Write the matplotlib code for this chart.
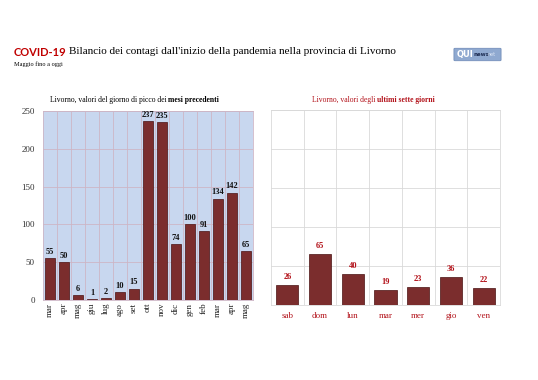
import matplotlib.pyplot as plt
import matplotlib.patches as mpatches
import numpy as np

mesi = ["mar", "apr", "mag", "giu", "lug", "ago", "set", "ott", "nov",
        "dic", "gen", "feb", "mar", "apr", "mag"]
picchi = [55, 50, 6, 1, 2, 10, 15, 237, 235, 74, 100, 91, 134, 142, 65]

giorni = ["sab", "dom", "lun", "mar", "mer", "gio", "ven"]
ultimi = [26, 65, 40, 19, 23, 36, 22]

plt.rcParams['font.family'] = ['Liberation Serif', 'DejaVu Serif']

BAR = '#7b2d2d'
EDGE = '#4a1212'
RED = '#b3121a'

fig = plt.figure(figsize=(5.38, 3.80), dpi=100)
fig.patch.set_facecolor('white')

# titolo
t1 = fig.text(14/538, 1 - 52/380, "COVID-19", fontsize=8, weight='bold',
              color='#c00000', family=['Lato', 'DejaVu Sans'], va='center')
fig.canvas.draw()
bb = t1.get_window_extent()
fig.text(bb.x1/538 + 0.005, 1 - 52/380, "Bilancio dei contagi dall'inizio della pandemia nella provincia di Livorno",
         fontsize=8, color='black', va='center')
fig.text(14/538, 1 - 64/380, "Maggio fino a oggi", fontsize=4.5, va='center')

# logo
logo = mpatches.FancyBboxPatch((455/538, 1 - 60/380), 45/538, 11/380,
                               boxstyle="round,pad=0.002", transform=fig.transFigure,
                               facecolor='#8fa9d0', edgecolor='#6a86b4', lw=0.5)
fig.patches.append(logo)
fig.text(457/538, 1 - 54.5/380, "QUI", fontsize=6, weight='bold', color='white',
         family=['DejaVu Sans'], va='center')
fig.text(473/538, 1 - 55/380, "news", fontsize=4, weight='bold', color='#1f2f55',
         family=['DejaVu Sans'], va='center')
fig.text(488/538, 1 - 55/380, "net", fontsize=3.5, color='#dde6f5',
         family=['DejaVu Sans'], va='center')

# grafico mesi
ax1 = fig.add_axes([43/538, 80/380, 210/538, 189/380])
x1 = np.arange(len(mesi))
ax1.set_facecolor('#c8d7ef')
ax1.bar(x1, picchi, width=0.78, color=BAR, edgecolor=EDGE, linewidth=0.5, zorder=3)
for xi, v in zip(x1, picchi):
    ax1.text(xi, v + 3, str(v), ha='center', va='bottom', fontsize=6,
             weight='bold', color='#111111', zorder=4)
ax1.set_xlim(-0.5, len(mesi) - 0.5)
ax1.set_ylim(0, 250)
ax1.set_yticks(range(0, 251, 50))
ax1.set_xticks(x1)
ax1.set_xticklabels(mesi, rotation=90, fontsize=6.5, color='#222222')
ax1.set_xticks(x1[:-1] + 0.5, minor=True)
ax1.tick_params(axis='both', which='both', length=0, pad=2)
ax1.tick_params(axis='y', labelsize=6.5, labelcolor='#333333', pad=6)
ax1.grid(True, axis='y', which='major', color='#cdb6c6', lw=0.6, zorder=0)
ax1.grid(True, axis='x', which='minor', color='#cdb6c6', lw=0.6, zorder=0)
for s in ax1.spines.values():
    s.set_color('#cdb6c6')
    s.set_linewidth(0.6)

t = fig.text(50/538, 1 - 100/380, "Livorno, valori del giorno di picco dei ",
             fontsize=5.5, va='center')
fig.canvas.draw()
bb = t.get_window_extent()
fig.text(bb.x1/538, 1 - 100/380, "mesi precedenti", fontsize=5.5, weight='bold', va='center')

# grafico ultimi giorni
ax2 = fig.add_axes([271/538, 75/380, 229/538, 195/380])
x2 = np.arange(len(giorni))
ax2.bar(x2, ultimi, width=0.68, color=BAR, edgecolor=EDGE, linewidth=0.5, zorder=3)
for xi, v in zip(x2, ultimi):
    ax2.text(xi, v + 5, str(v), ha='center', va='bottom', fontsize=6,
             weight='bold', color=RED, zorder=4)
ax2.set_xlim(-0.5, len(giorni) - 0.5)
ax2.set_ylim(0, 250)
ax2.set_yticks(range(0, 251, 50))
ax2.set_yticklabels([])
ax2.set_xticks(x2)
ax2.set_xticklabels(giorni, fontsize=6.5, color=RED)
ax2.set_xticks(x2[:-1] + 0.5, minor=True)
ax2.tick_params(axis='both', which='both', length=0, pad=5)
ax2.grid(True, axis='y', which='major', color='#d9d9d9', lw=0.6, zorder=0)
ax2.grid(True, axis='x', which='minor', color='#d9d9d9', lw=0.6, zorder=0)
for s in ax2.spines.values():
    s.set_color('#d9d9d9')
    s.set_linewidth(0.6)

t = fig.text(312/538, 1 - 100/380, "Livorno, valori degli ", fontsize=5.5,
             color=RED, va='center')
fig.canvas.draw()
bb = t.get_window_extent()
fig.text(bb.x1/538, 1 - 100/380, "ultimi sette giorni", fontsize=5.5, weight='bold',
         color=RED, va='center')

fig.savefig('out.png', dpi=100)
